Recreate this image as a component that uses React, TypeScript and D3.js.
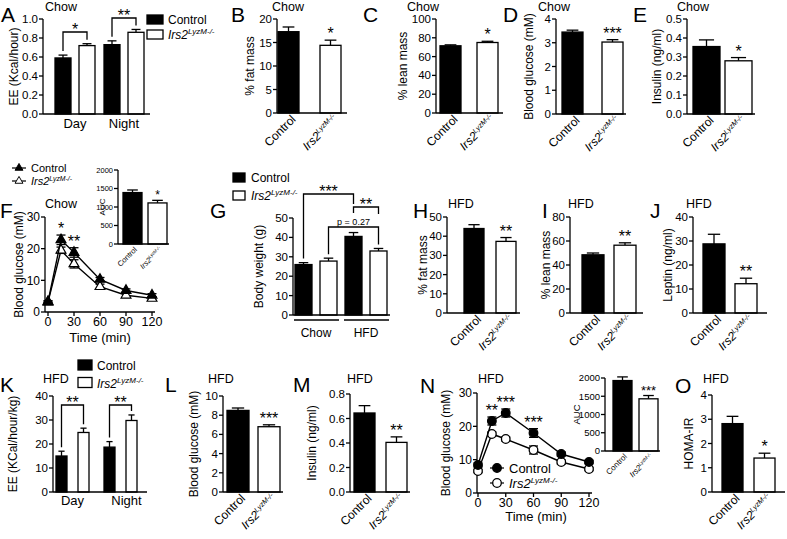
import React from 'react';
import * as d3 from 'd3';

const FONT = '"Liberation Sans", Arial, Helvetica, sans-serif';

// ---------------- Data ----------------
const genotypes = ['Control', 'Irs2'];
const periods = ['Day', 'Night'];
const diets = ['Chow', 'HFD'];

const eeChowDay = [0.59, 0.72];
const eeChowDayErr = [0.03, 0.02];
const eeChowNight = [0.73, 0.86];
const eeChowNightErr = [0.04, 0.03];
const fatChow = [17.3, 14.4];
const fatChowErr = [1.0, 1.1];
const leanChow = [71.5, 75.0];
const leanChowErr = [1.0, 1.3];
const glucoseChow = [3.45, 3.03];
const glucoseChowErr = [0.08, 0.1];
const insulinChow = [0.355, 0.28];
const insulinChowErr = [0.035, 0.017];

const gttTimes = [0, 15, 30, 60, 90, 120];
const timeTicks = [0, 30, 60, 90, 120];
const gttChowControl = [3.3, 22.8, 18.8, 10.3, 6.8, 5.3];
const gttChowControlErr = [0.3, 1.5, 1.5, 0.6, 0.5, 0.5];
const gttChowIrs2 = [3.1, 19.5, 15.2, 8.0, 5.3, 4.3];
const gttChowIrs2Err = [0.3, 1.0, 1.3, 0.8, 0.6, 0.5];
const aucChow = [1390, 1110];
const aucChowErr = [70, 70];

const bwChow = [26.0, 27.8];
const bwChowErr = [1.0, 1.5];
const bwHfd = [40.5, 33.0];
const bwHfdErr = [2.0, 1.3];
const fatHfd = [44.0, 37.3];
const fatHfdErr = [2.0, 2.0];
const leanHfd = [48.5, 56.5];
const leanHfdErr = [1.5, 2.0];
const leptinHfd = [28.8, 12.2];
const leptinHfdErr = [4.0, 2.3];

const eeHfdDay = [15.0, 24.8];
const eeHfdDayErr = [2.0, 1.8];
const eeHfdNight = [18.7, 29.8];
const eeHfdNightErr = [2.3, 2.3];
const glucoseHfd = [8.5, 6.8];
const glucoseHfdErr = [0.25, 0.2];
const insulinHfd = [0.645, 0.405];
const insulinHfdErr = [0.06, 0.045];
const gttHfdControl = [8.4, 21.6, 24.0, 18.0, 11.7, 9.3];
const gttHfdControlErr = [0.6, 1.2, 1.2, 1.3, 0.6, 0.5];
const gttHfdIrs2 = [6.6, 17.7, 16.2, 12.9, 9.3, 7.2];
const gttHfdIrs2Err = [0.5, 0.6, 0.6, 1.2, 0.6, 0.5];
const aucHfd = [1930, 1430];
const aucHfdErr = [100, 90];
const homaHfd = [2.82, 1.4];
const homaHfdErr = [0.3, 0.2];

// ---------------- Helpers ----------------
const FILL = ['#000', '#fff'];
const SW = 1.3;

function band(keys: string[], x0: number, x1: number, w: number) {
  const step = (x1 - x0 - w) / (keys.length - 1);
  return d3.scaleBand<string>().domain(keys).range([x0, x1]).paddingInner(1 - w / step).paddingOuter(0);
}

const Irs2Text = ({ fs, sfs }: any) => (
  <>
    <tspan fontStyle="italic">Irs2</tspan>
    <tspan fontStyle="italic" fontSize={sfs} dy={-fs * 0.38}>LyzM-/-</tspan>
  </>
);

function YAxis({ x, y, ticks, fmt, fs }: any) {
  const [b, t] = y.range();
  return (
    <g>
      <line x1={x} x2={x} y1={b} y2={t} stroke="#000" strokeWidth={SW} />
      {ticks.map((v: number) => (
        <g key={v}>
          <line x1={x - 4} x2={x} y1={y(v)} y2={y(v)} stroke="#000" strokeWidth={SW} />
          <text x={x - 5} y={y(v)} dy="0.35em" textAnchor="end" fontSize={fs}>{fmt(v)}</text>
        </g>
      ))}
    </g>
  );
}

function Bar({ x, w, y, v, e, fill }: any) {
  const y0 = y(0), yv = y(v), ye = y(v + e);
  const cx = x + w / 2, cw = w * 0.28;
  return (
    <g>
      <line x1={cx} x2={cx} y1={yv} y2={ye} stroke="#000" strokeWidth={SW} />
      <line x1={cx - cw} x2={cx + cw} y1={ye} y2={ye} stroke="#000" strokeWidth={SW} />
      <rect x={x} y={yv} width={w} height={y0 - yv} fill={fill} stroke="#000" strokeWidth={SW} />
    </g>
  );
}

function Common({ c }: any) {
  const yMid = (c.yT + c.yB) / 2;
  return (
    <g>
      {c.letter && <text x={c.lx} y={c.ly} fontSize={21}>{c.letter}</text>}
      {c.title && <text x={c.tx} y={c.ty} fontSize={12.5}>{c.title}</text>}
      {c.yLabel && (
        <text transform={`translate(${c.ylx},${yMid}) rotate(-90)`} textAnchor="middle" fontSize={c.ylfs || 12}>{c.yLabel}</text>
      )}
    </g>
  );
}

function GenoPanel({ c }: any) {
  const y = d3.scaleLinear().domain([0, c.max]).range([c.yB, c.yT]);
  const xb = band(genotypes, c.x0, c.x1, c.w);
  const ticks = d3.range(0, c.max + c.step / 2, c.step);
  const fmt = d3.format(c.fmt);
  const lfs = c.lfs || 12;
  return (
    <g>
      <Common c={c} />
      {genotypes.map((k, i) => (
        <Bar key={k} x={xb(k)} w={c.w} y={y} v={c.values[i]} e={c.errs[i]} fill={FILL[i]} />
      ))}
      <YAxis x={c.axisX} y={y} ticks={ticks} fmt={fmt} fs={c.fs || 11.5} />
      <line x1={c.axisX} x2={c.axisEnd} y1={c.yB} y2={c.yB} stroke="#000" strokeWidth={SW} />
      {genotypes.map((k, i) => (
        c.stars[i] ? (
          <text key={k} x={(xb(k) as number) + c.w / 2} y={y(c.values[i] + c.errs[i]) - 1} textAnchor="middle" fontSize={c.sfs || 16}>{c.stars[i]}</text>
        ) : null
      ))}
      {genotypes.map((k, i) => (
        <text key={k} transform={`translate(${(xb(k) as number) + c.w / 2 + (c.ldx ?? 8)},${c.yB + (c.ldy ?? 7)}) rotate(-45)`} textAnchor="end" fontSize={lfs}>
          {i === 0 ? 'Control' : <Irs2Text fs={lfs} sfs={lfs * 0.6} />}
        </text>
      ))}
    </g>
  );
}

function GroupPanel({ c }: any) {
  const y = d3.scaleLinear().domain([0, c.max]).range([c.yB, c.yT]);
  const outer = band(c.groups, c.gx0, c.gx1, c.gw);
  const inner = band(genotypes, 0, c.gw, c.w);
  const ticks = d3.range(0, c.max + c.step / 2, c.step);
  const fmt = d3.format(c.fmt);
  const bx = (gi: number, ki: number) => (outer(c.groups[gi]) as number) + (inner(genotypes[ki]) as number);
  const top = (gi: number, ki: number) => y(c.values[gi][ki] + c.errs[gi][ki]);
  return (
    <g>
      <Common c={c} />
      {c.groups.map((g: string, gi: number) => genotypes.map((k, ki) => (
        <Bar key={g + k} x={bx(gi, ki)} w={c.w} y={y} v={c.values[gi][ki]} e={c.errs[gi][ki]} fill={FILL[ki]} />
      )))}
      <YAxis x={c.axisX} y={y} ticks={ticks} fmt={fmt} fs={c.fs || 11.5} />
      <line x1={c.axisX} x2={c.axisEnd} y1={c.yB} y2={c.yB} stroke="#000" strokeWidth={SW} />
      {c.groups.map((g: string, gi: number) => {
        const gx = (outer(g) as number);
        return (
          <g key={g}>
            {c.underlineY && (
              <line x1={gx - 1} x2={gx + c.gw + 2} y1={c.underlineY} y2={c.underlineY} stroke="#000" strokeWidth={SW} />
            )}
            <text x={gx + c.gw / 2 + (c.glabelDx ? c.glabelDx[gi] : 0)} y={c.glabelY} textAnchor="middle" fontSize={c.glfs || 13}>{g}</text>
          </g>
        );
      })}
      {c.brackets.map((b: any, i: number) => {
        const xa = bx(b.a[0], b.a[1]) + c.w / 2;
        const xe = bx(b.b[0], b.b[1]) + c.w / 2;
        const ea = b.ea ?? top(b.a[0], b.a[1]) - 4;
        const eb = b.eb ?? top(b.b[0], b.b[1]) - 4;
        return (
          <g key={i}>
            <path d={`M${xa},${ea}V${b.y}H${xe}V${eb}`} fill="none" stroke="#000" strokeWidth={SW} />
            <text x={(xa + xe) / 2} y={b.small ? b.y - 2.5 : b.y + 3} textAnchor="middle" fontSize={b.fs ?? 16}>{b.text}</text>
          </g>
        );
      })}
      {genotypes.map((k, ki) => (
        <g key={k}>
          <rect x={c.legend.x} y={c.legend.y + ki * c.legend.gap} width={c.legend.w} height={c.legend.h} fill={FILL[ki]} stroke="#000" strokeWidth={SW} />
          <text x={c.legend.tx} y={c.legend.y + ki * c.legend.gap + c.legend.h} fontSize={12}>
            {ki === 0 ? 'Control' : <Irs2Text fs={12} sfs={8} />}
          </text>
        </g>
      ))}
    </g>
  );
}

function LinePanel({ c }: any) {
  const x = d3.scaleLinear().domain([0, 120]).range([c.xL, c.xR]);
  const y = d3.scaleLinear().domain([0, 30]).range([c.yB, c.yT]);
  const line = d3.line<number>().x((_, i) => x(gttTimes[i])).y((d) => y(d));
  const series = [
    { v: c.irs2, e: c.irs2Err, fill: '#fff' },
    { v: c.ctrl, e: c.ctrlErr, fill: '#000' },
  ];
  const tri = d3.symbol().type(d3.symbolTriangle).size(c.msize)() as string;
  const marker = (cx: number, cy: number, fill: string, key: any, scale = 1) =>
    c.marker === 'tri' ? (
      <path key={key} d={tri} transform={`translate(${cx},${cy}) scale(${scale})`} fill={fill} stroke="#000" strokeWidth={1.2} />
    ) : (
      <circle key={key} cx={cx} cy={cy} r={c.r * scale} fill={fill} stroke="#000" strokeWidth={1.3} />
    );
  const yTicks = [0, 10, 20, 30];
  return (
    <g>
      <Common c={c} />
      <YAxis x={c.axisX} y={y} ticks={yTicks} fmt={d3.format('d')} fs={12} />
      <line x1={c.axisX} x2={c.axisEnd} y1={c.yB} y2={c.yB} stroke="#000" strokeWidth={SW} />
      {timeTicks.map((t) => (
        <g key={t}>
          <line x1={x(t)} x2={x(t)} y1={c.yB} y2={c.yB + 4} stroke="#000" strokeWidth={SW} />
          <text x={x(t)} y={c.yB + 13.5} textAnchor="middle" fontSize={12.5}>{t}</text>
        </g>
      ))}
      <text x={c.xlabX} y={c.xlabY} textAnchor="middle" fontSize={13}>Time (min)</text>
      {series.map((s, si) => (
        <g key={si}>
          <path d={line(s.v) as string} fill="none" stroke="#000" strokeWidth={1.4} />
          {s.v.map((v: number, i: number) => {
            const cx = x(gttTimes[i]);
            const y1 = y(v - s.e[i]), y2 = y(v + s.e[i]);
            return (
              <g key={i}>
                <line x1={cx} x2={cx} y1={y1} y2={y2} stroke="#000" strokeWidth={SW} />
                <line x1={cx - 4.5} x2={cx + 4.5} y1={y1} y2={y1} stroke="#000" strokeWidth={SW} />
                <line x1={cx - 4.5} x2={cx + 4.5} y1={y2} y2={y2} stroke="#000" strokeWidth={SW} />
              </g>
            );
          })}
          {s.v.map((v: number, i: number) => marker(x(gttTimes[i]), y(v), s.fill, 'm' + i))}
        </g>
      ))}
      {c.stars.map((s: any, i: number) => {
        const idx = gttTimes.indexOf(s.t);
        return (
          <text key={i} x={x(s.t)} y={y(c.ctrl[idx] + c.ctrlErr[idx]) - 1} textAnchor="middle" fontSize={16}>{s.text}</text>
        );
      })}
      {genotypes.map((k, ki) => {
        const ly = c.legY + ki * c.legGap;
        return (
          <g key={k}>
            <line x1={c.legX - 7} x2={c.legX + 7} y1={ly} y2={ly} stroke="#000" strokeWidth={1.2} />
            {marker(c.legX, ly, FILL[ki], 'l' + ki, c.legScale)}
            <text x={c.legTx} y={ly + c.legFs * 0.36} fontSize={c.legFs}>
              {ki === 0 ? 'Control' : <Irs2Text fs={c.legFs} sfs={c.legFs * 0.62} />}
            </text>
          </g>
        );
      })}
    </g>
  );
}

// ---------------- Panel layouts ----------------
const pA = {
  letter: 'A', lx: 1, ly: 22, title: 'Chow', tx: 45, ty: 11, yLabel: 'EE (Kcal/hour)', ylx: 18,
  groups: periods, values: [eeChowDay, eeChowNight], errs: [eeChowDayErr, eeChowNightErr],
  gx0: 55, gx1: 144, gw: 40, w: 16, axisX: 43, axisEnd: 150, yT: 19, yB: 114, max: 1, step: 0.2, fmt: '.1f',
  glabelY: 128,
  brackets: [{ a: [0, 0], b: [0, 1], y: 32, text: '*' }, { a: [1, 0], b: [1, 1], y: 18, text: '**' }],
  legend: { x: 147, y: 15, w: 16, h: 9, gap: 15, tx: 168 },
};
const pB = {
  letter: 'B', lx: 231, ly: 22, title: 'Chow', tx: 272, ty: 11, yLabel: '% fat mass', ylx: 254,
  values: fatChow, errs: fatChowErr, x0: 278, x1: 341, w: 21, axisX: 277, axisEnd: 347,
  yT: 19, yB: 113, max: 20, step: 5, fmt: 'd', stars: ['', '*'],
};
const pC = {
  letter: 'C', lx: 363, ly: 22, title: 'Chow', tx: 407, ty: 11, yLabel: '% lean mass', ylx: 407,
  values: leanChow, errs: leanChowErr, x0: 440, x1: 498, w: 21, axisX: 436, axisEnd: 503,
  yT: 19, yB: 113, max: 100, step: 20, fmt: 'd', stars: ['', '*'],
};
const pD = {
  letter: 'D', lx: 503, ly: 22, title: 'Chow', tx: 538, ty: 11, yLabel: 'Blood glucose (mM)', ylx: 533,
  values: glucoseChow, errs: glucoseChowErr, x0: 562, x1: 623, w: 21, axisX: 556, axisEnd: 626,
  yT: 19, yB: 114, max: 4, step: 1, fmt: 'd', stars: ['', '***'],
};
const pE = {
  letter: 'E', lx: 633, ly: 22, title: 'Chow', tx: 677, ty: 11, yLabel: 'Insulin (ng/ml)', ylx: 661,
  values: insulinChow, errs: insulinChowErr, x0: 693, x1: 752, w: 27, axisX: 687, axisEnd: 755,
  yT: 19, yB: 114, max: 0.5, step: 0.1, fmt: '.1f', stars: ['', '*'],
};
const pF = {
  letter: 'F', lx: 0, ly: 218, title: 'Chow', tx: 45, ty: 208, yLabel: 'Blood glucose (mM)', ylx: 23,
  axisX: 45, axisEnd: 155, xL: 48, xR: 152, yT: 217, yB: 312, marker: 'tri', msize: 42, r: 4,
  ctrl: gttChowControl, ctrlErr: gttChowControlErr, irs2: gttChowIrs2, irs2Err: gttChowIrs2Err,
  stars: [{ t: 15, text: '*' }, { t: 30, text: '**' }],
  xlabX: 100, xlabY: 342, legX: 19, legY: 168, legGap: 13, legTx: 31, legFs: 11, legScale: 0.8,
};
const pFi = {
  yLabel: 'AUC', ylx: 105, ylfs: 8,
  values: aucChow, errs: aucChowErr, x0: 123, x1: 167, w: 19, axisX: 118, axisEnd: 169,
  yT: 170, yB: 244, max: 2000, step: 500, fmt: 'd', stars: ['', '*'], fs: 7.5, sfs: 12, lfs: 7.5, ldx: 5, ldy: 6,
};
const pG = {
  letter: 'G', lx: 210, ly: 218, yLabel: 'Body weight (g)', ylx: 263,
  groups: diets, values: [bwChow, bwHfd], errs: [bwChowErr, bwHfdErr],
  gx0: 295, gx1: 387, gw: 42, w: 17, axisX: 293, axisEnd: 390, yT: 218, yB: 315, max: 50, step: 10, fmt: 'd',
  underlineY: 320, glabelY: 337, glfs: 12,
  brackets: [
    { a: [0, 0], b: [1, 0], y: 194, eb: 204, text: '***' },
    { a: [1, 0], b: [1, 1], y: 207, ea: 213, eb: 214, text: '**' },
    { a: [0, 1], b: [1, 1], y: 227, text: 'p = 0.27', fs: 9, small: true },
  ],
  legend: { x: 233, y: 173, w: 12, h: 9, gap: 18, tx: 251 },
};
const pH = {
  letter: 'H', lx: 413, ly: 218, title: 'HFD', tx: 448, ty: 208, yLabel: '% fat mass', ylx: 427,
  values: fatHfd, errs: fatHfdErr, x0: 464, x1: 516, w: 20, axisX: 447, axisEnd: 520,
  yT: 217, yB: 313, max: 50, step: 10, fmt: 'd', stars: ['', '**'],
};
const pI = {
  letter: 'I', lx: 542, ly: 218, title: 'HFD', tx: 568, ty: 208, yLabel: '% lean mass', ylx: 550,
  values: leanHfd, errs: leanHfdErr, x0: 582, x1: 636, w: 22, axisX: 570, axisEnd: 643,
  yT: 217, yB: 313, max: 80, step: 20, fmt: 'd', stars: ['', '**'],
};
const pJ = {
  letter: 'J', lx: 650, ly: 218, title: 'HFD', tx: 686, ty: 208, yLabel: 'Leptin (ng/ml)', ylx: 672,
  values: leptinHfd, errs: leptinHfdErr, x0: 703, x1: 757, w: 22, axisX: 693, axisEnd: 767,
  yT: 217, yB: 313, max: 40, step: 10, fmt: 'd', stars: ['', '**'],
};
const pK = {
  letter: 'K', lx: 0, ly: 392, title: 'HFD', tx: 43, ty: 383, yLabel: 'EE (KCal/hour/kg)', ylx: 17,
  groups: periods, values: [eeHfdDay, eeHfdNight], errs: [eeHfdDayErr, eeHfdNightErr],
  gx0: 56, gx1: 137, gw: 33, w: 11, axisX: 53, axisEnd: 147, yT: 396, yB: 492, max: 40, step: 10, fmt: 'd',
  glabelY: 505, glabelDx: [0, 6],
  brackets: [{ a: [0, 0], b: [0, 1], y: 405, text: '**' }, { a: [1, 0], b: [1, 1], y: 405, text: '**' }],
  legend: { x: 78, y: 360, w: 14, h: 10, gap: 17.5, tx: 97 },
};
const pL = {
  letter: 'L', lx: 165, ly: 392, title: 'HFD', tx: 208, ty: 383, yLabel: 'Blood glucose (mM)', ylx: 198,
  values: glucoseHfd, errs: glucoseHfdErr, x0: 227, x1: 280, w: 22, axisX: 223, axisEnd: 283,
  yT: 396, yB: 492, max: 10, step: 2, fmt: 'd', stars: ['', '***'],
};
const pM = {
  letter: 'M', lx: 293, ly: 392, title: 'HFD', tx: 347, ty: 383, yLabel: 'Insulin (ng/ml)', ylx: 316,
  values: insulinHfd, errs: insulinHfdErr, x0: 354, x1: 407, w: 21, axisX: 350, axisEnd: 410,
  yT: 394, yB: 492, max: 0.8, step: 0.2, fmt: '.1f', stars: ['', '**'],
};
const pN = {
  letter: 'N', lx: 420, ly: 393, title: 'HFD', tx: 478, ty: 383, yLabel: 'Blood glucose (mM)', ylx: 450,
  axisX: 477, axisEnd: 592, xL: 478, xR: 589, yT: 393, yB: 493, marker: 'circle', msize: 40, r: 4.3,
  ctrl: gttHfdControl, ctrlErr: gttHfdControlErr, irs2: gttHfdIrs2, irs2Err: gttHfdIrs2Err,
  stars: [{ t: 15, text: '**' }, { t: 30, text: '***' }, { t: 60, text: '***' }],
  xlabX: 536, xlabY: 521, legX: 497, legY: 468, legGap: 15, legTx: 509, legFs: 13, legScale: 1,
};
const pNi = {
  yLabel: 'AUC', ylx: 580, ylfs: 9.5,
  values: aucHfd, errs: aucHfdErr, x0: 613, x1: 658, w: 19, axisX: 605, axisEnd: 660,
  yT: 378, yB: 451, max: 2000, step: 500, fmt: 'd', stars: ['', '***'], fs: 9.5, sfs: 13, lfs: 8, ldx: 5, ldy: 6,
};
const pO = {
  letter: 'O', lx: 675, ly: 393, title: 'HFD', tx: 703, ty: 383, yLabel: 'HOMA-IR', ylx: 693,
  values: homaHfd, errs: homaHfdErr, x0: 722, x1: 775, w: 21, axisX: 712, axisEnd: 785,
  yT: 395, yB: 492, max: 4, step: 1, fmt: 'd', stars: ['', '*'],
};

export default function App() {
  return (
    <svg
      width={787}
      height={539}
      viewBox="0 0 787 539"
      style={{ position: 'absolute', left: 0, top: 0, background: '#fff' }}
      fontFamily={FONT}
    >
      <rect x={0} y={0} width={787} height={539} fill="#fff" />
      <GroupPanel c={pA} />
      <GenoPanel c={pB} />
      <GenoPanel c={pC} />
      <GenoPanel c={pD} />
      <GenoPanel c={pE} />
      <LinePanel c={pF} />
      <GenoPanel c={pFi} />
      <GroupPanel c={pG} />
      <GenoPanel c={pH} />
      <GenoPanel c={pI} />
      <GenoPanel c={pJ} />
      <GroupPanel c={pK} />
      <GenoPanel c={pL} />
      <GenoPanel c={pM} />
      <LinePanel c={pN} />
      <GenoPanel c={pNi} />
      <GenoPanel c={pO} />
    </svg>
  );
}
